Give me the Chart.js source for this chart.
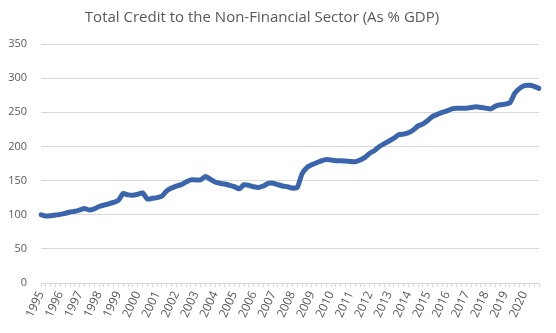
<!DOCTYPE html>
<html>
<head>
<meta charset="utf-8">
<script src="https://cdn.jsdelivr.net/npm/chart.js@4"></script>
<style>
  html, body { margin: 0; padding: 0; background: #fff; }
  #wrap { width: 556px; height: 333px; }
</style>
</head>
<body>
<div id="wrap"><canvas id="creditChart" width="556" height="333"></canvas></div>
<script>
/* Total credit to the non-financial sector, % of GDP, quarterly 1995-2020 */

const TITLE = 'Total Credit to the Non-Financial Sector (As % GDP)';
const YEARS = [1995, 1996, 1997, 1998, 1999, 2000, 2001, 2002, 2003, 2004, 2005, 2006, 2007,
               2008, 2009, 2010, 2011, 2012, 2013, 2014, 2015, 2016, 2017, 2018, 2019, 2020];
const Y_TICKS = [0, 50, 100, 150, 200, 250, 300, 350];

// one row per year, four quarters each
const credit = [
  100, 98, 98.5, 99.5,      // 1995
  100.5, 102, 104, 105,     // 1996
  107, 109, 107, 108.5,     // 1997
  112, 114, 116, 118,       // 1998
  121, 131, 129, 128.5,     // 1999
  130, 132, 123, 124,       // 2000
  125, 127, 135, 139,       // 2001
  142, 144, 148, 151,       // 2002
  151, 151, 156, 152,       // 2003
  148, 146, 145, 143,       // 2004
  141, 138, 144, 143,       // 2005
  141, 140, 142, 146,       // 2006
  146, 144, 142, 141,       // 2007
  139, 140, 160, 169,       // 2008
  173, 176, 179, 181,       // 2009
  180, 179, 179, 178.5,     // 2010
  178, 177.5, 180, 184,     // 2011
  190, 194, 200, 204,       // 2012
  208, 212, 217, 218,       // 2013
  220, 224, 230, 233,       // 2014
  238, 244, 247, 250,       // 2015
  252, 255, 256, 256,       // 2016
  256, 257, 258, 257,       // 2017
  256, 255, 259, 261,       // 2018
  262, 264, 278, 285,       // 2019
  289, 289.5, 288, 285      // 2020
];

const quarterLabels = [];
YEARS.forEach(y => { for (let q = 1; q <= 4; q++) quarterLabels.push(y + ' Q' + q); });

const GREY_TEXT = '#595959';
const GRID = '#d9d9d9';
const LINE_BLUE = '#3a64ab';

// ── Title drawn in the reserved top band ─────────────────────

const titlePlugin = {
  id: 'excelTitle',
  afterDraw(chart) {
    const ctx = chart.ctx;
    ctx.save();
    ctx.fillStyle = GREY_TEXT;
    ctx.font = "15px 'Open Sans', sans-serif";
    ctx.textAlign = 'center';
    ctx.textBaseline = 'middle';
    ctx.fillText(TITLE, 262, 18);
    ctx.restore();
  }
};

new Chart(document.getElementById('creditChart'), {
  type: 'line',
  data: {
    labels: quarterLabels,
    datasets: [{
      data: credit,
      borderColor: LINE_BLUE,
      backgroundColor: LINE_BLUE,
      borderWidth: 5,
      borderCapStyle: 'round',
      borderJoinStyle: 'round',
      pointRadius: 0,
      tension: 0.2,
      fill: false
    }]
  },
  options: {
    responsive: false,
    animation: false,
    devicePixelRatio: 1,
    layout: { padding: { top: 44, right: 17, bottom: 0, left: 0 } },
    plugins: {
      legend: { display: false },
      tooltip: { enabled: false }
    },
    scales: {
      x: {
        afterFit: s => { s.height = 50; },
        border: { display: true, color: GRID, width: 1 },
        grid: { display: true, drawOnChartArea: false, drawTicks: true, tickLength: 4, color: GRID },
        ticks: {
          autoSkip: false,
          minRotation: 65,
          maxRotation: 65,
          padding: 2,
          color: GREY_TEXT,
          font: { family: "'Open Sans', sans-serif", size: 12 },
          callback: (v, i) => i % 4 === 0 ? String(YEARS[i / 4]) : ''
        }
      },
      y: {
        min: 0,
        max: 350,
        afterFit: s => { s.width = 41; },
        afterBuildTicks: s => { s.ticks = Y_TICKS.map(v => ({ value: v })); },
        border: { display: false },
        grid: { color: GRID, drawTicks: false, lineWidth: 1 },
        ticks: {
          padding: 14,
          color: GREY_TEXT,
          font: { family: "'Open Sans', sans-serif", size: 11 }
        }
      }
    }
  },
  plugins: [titlePlugin]
});
</script>
</body>
</html>
